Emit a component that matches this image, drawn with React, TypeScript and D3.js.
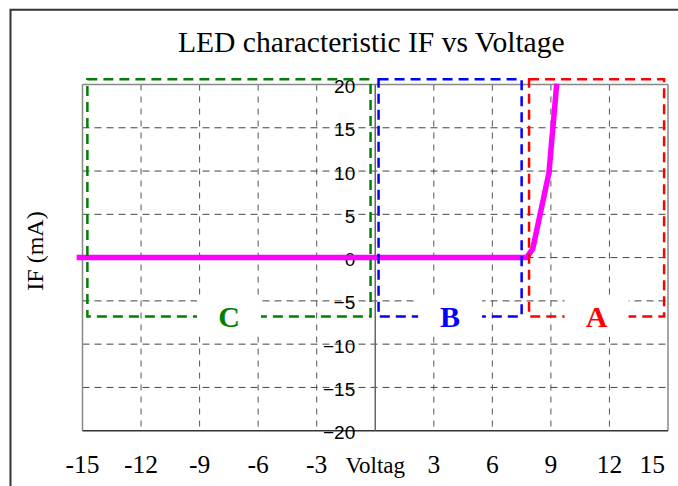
import React from "react";
import * as d3 from "d3";

const voltage = [-15.3, 7.75, 8.07, 8.9, 9.3];
const current = [0, 0, 1, 9.8, 20.1];

const xTicks = [-15, -12, -9, -6, -3, 0, 3, 6, 9, 12, 15];
const xTickLabels = ["-15", "-12", "-9", "-6", "-3", "Voltag", "3", "6", "9", "12", "15"];
const yTicks = [20, 15, 10, 5, 0, -5, -10, -15, -20];
const yTickLabels = ["20", "15", "10", "5", "0", "\u22125", "\u221210", "\u221215", "\u221220"];

const regionNames = ["C", "B", "A"];
const regionX0 = [-14.75, 0.17, 7.88];
const regionX1 = [-0.24, 7.5, 14.8];
const regionTop = 20.6;
const regionBottom = -6.8;
const regionColors = ["#008000", "#0000ff", "#ff0000"];

const title = "LED characteristic IF vs Voltage";
const yLabel = "IF (mA)";

export default function App() {
  const W = 678;
  const H = 486;
  const x = d3.scaleLinear().domain([-15, 15]).range([82.5, 668]);
  const y = d3.scaleLinear().domain([-20, 20]).range([430.7, 84.5]);
  const serif = "'Liberation Serif', 'Times New Roman', serif";
  const sans = "'Liberation Sans', Arial, sans-serif";

  const line = d3
    .line<number>()
    .x((_, i) => x(voltage[i]))
    .y((d) => y(d));

  return (
    <svg
      width={W}
      height={H}
      style={{ position: "absolute", left: 0, top: 0, background: "#fff" }}
    >
      {/* outer frame */}
      <path d={`M10.5,${H + 5} V9.7 H${W + 5}`} fill="none" stroke="#333" strokeWidth={2} />

      {/* title */}
      <text x={371.3} y={52} textAnchor="middle" fontFamily={serif} fontSize={29.6} fill="#000">
        {title}
      </text>

      {/* grid vertical */}
      {xTicks
        .filter((t) => t !== -15 && t !== 0 && t !== 15)
        .map((t) => (
          <line
            key={"gx" + t}
            x1={x(t)}
            x2={x(t)}
            y1={y(20)}
            y2={y(-20)}
            stroke="#555"
            strokeWidth={1}
            strokeDasharray="6,6"
          />
        ))}
      {/* grid horizontal */}
      {yTicks
        .filter((t) => t !== 20 && t !== -20)
        .map((t) => (
          <line
            key={"gy" + t}
            x1={x(-15)}
            x2={x(15)}
            y1={y(t)}
            y2={y(t)}
            stroke="#444"
            strokeWidth={1}
            strokeDasharray="7,5"
          />
        ))}

      {/* plot borders */}
      <line x1={x(-15)} x2={x(15)} y1={y(20)} y2={y(20)} stroke="#888" strokeWidth={1.5} />
      <line x1={x(-15)} x2={x(-15)} y1={y(20)} y2={y(-20)} stroke="#888" strokeWidth={1.5} />
      <line x1={x(15)} x2={x(15)} y1={y(20)} y2={y(-20)} stroke="#888" strokeWidth={1.5} />
      <line x1={x(-15)} x2={x(15)} y1={y(-20)} y2={y(-20)} stroke="#333" strokeWidth={1.5} />
      {/* vertical axis at 0 */}
      <line x1={x(0)} x2={x(0)} y1={y(20)} y2={y(-20)} stroke="#666" strokeWidth={1.5} />

      {/* y tick labels */}
      {yTicks.map((t, i) => (
        <text
          key={"yl" + t}
          x={x(0) - 20}
          y={y(t) + 2}
          textAnchor="end"
          dominantBaseline="central"
          fontFamily={sans}
          fontSize={19}
          fill="#000"
        >
          {yTickLabels[i]}
        </text>
      ))}

      {/* curve */}
      <path d={line(current) || ""} fill="none" stroke="#ff00ff" strokeWidth={5.5} strokeLinejoin="round" />

      {/* region boxes */}
      {regionNames.map((n, i) => (
        <rect
          key={"r" + n}
          x={x(regionX0[i])}
          y={y(regionTop)}
          width={x(regionX1[i]) - x(regionX0[i])}
          height={y(regionBottom) - y(regionTop)}
          fill="none"
          stroke={regionColors[i]}
          strokeWidth={2.5}
          strokeDasharray="10,6"
        />
      ))}
      {regionNames.map((n, i) => {
        const cx = (x(regionX0[i]) + x(regionX1[i])) / 2;
        const cy = y(regionBottom);
        return (
          <g key={"lab" + n}>
            <rect x={cx - 32} y={cy - 18} width={64} height={38} fill="#fff" />
            <text
              x={cx}
              y={cy + 11}
              textAnchor="middle"
              fontFamily={serif}
              fontWeight="bold"
              fontSize={30}
              fill={regionColors[i]}
            >
              {n}
            </text>
          </g>
        );
      })}

      {/* x tick labels */}
      {xTicks.map((t, i) => {
        const isLast = i === xTicks.length - 1;
        const isMid = t === 0;
        return (
          <text
            key={"xl" + t}
            x={isLast ? x(t) - 3 : x(t)}
            y={473}
            textAnchor={isLast ? "end" : "middle"}
            fontFamily={serif}
            fontSize={isMid ? 23 : 25.5}
            fill="#000"
          >
            {xTickLabels[i]}
          </text>
        );
      })}

      {/* y label */}
      <text
        transform={`translate(43,251) rotate(-90)`}
        textAnchor="middle"
        fontFamily={serif}
        fontSize={24}
        fill="#000"
      >
        {yLabel}
      </text>
    </svg>
  );
}
